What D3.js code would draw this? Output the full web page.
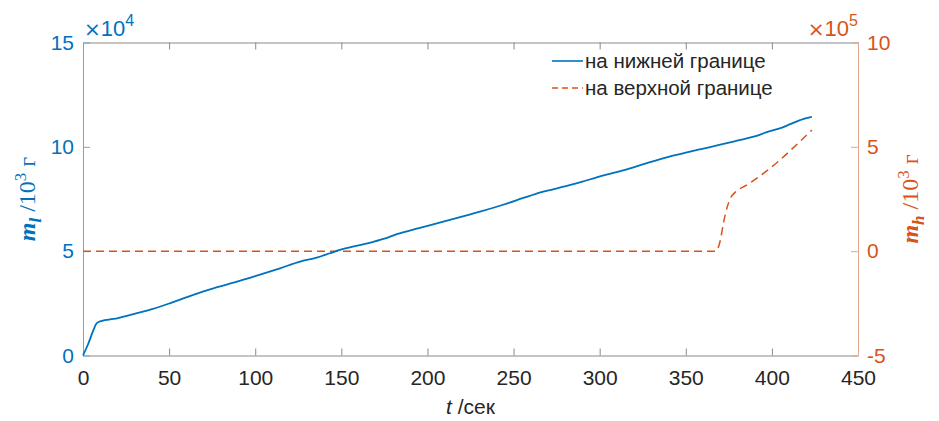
<!DOCTYPE html>
<html>
<head>
<meta charset="utf-8">
<script src="https://cdn.jsdelivr.net/npm/d3@7"></script>
<style>
	body { margin: 0; background: #fff; }
	text { font-family: Arial, "Liberation Sans", Helvetica, sans-serif; }
	.lbl { font-family: "Times New Roman", "Liberation Serif", serif; }
</style>
</head>
<body>
<div id="chart"></div>
<script>
// lower boundary mass, units of 1e4
var lowerTime = [0, 3, 6, 8, 11, 17.6, 27.3, 40, 49.6, 62, 75.7, 88, 100, 114.4, 126, 135.7, 143.4, 149.2, 160, 168.6, 175, 182.2, 195, 209.2, 220, 230.5, 243, 255.7, 263, 271.2, 278.9, 290, 298.3, 308, 317.6, 329.3, 340, 350, 358.3, 370, 381.5, 390, 397, 405, 411, 416.4, 420, 423.2];
var lowerMass = [0, 0.55, 1.2, 1.55, 1.66, 1.75, 1.94, 2.22, 2.48, 2.85, 3.22, 3.5, 3.8, 4.18, 4.5, 4.69, 4.9, 5.06, 5.28, 5.45, 5.6, 5.82, 6.1, 6.41, 6.65, 6.89, 7.2, 7.55, 7.75, 7.93, 8.09, 8.33, 8.54, 8.75, 8.97, 9.27, 9.52, 9.72, 9.88, 10.1, 10.33, 10.5, 10.7, 10.9, 11.1, 11.28, 11.38, 11.44];

// upper boundary mass, units of 1e5
var upperTime = [0, 100, 200, 300, 367.5, 370, 372, 374, 376, 379, 385, 393, 403, 413, 423.2];
var upperMass = [0, 0, 0, 0, 0, 0.5, 1.4, 2.1, 2.55, 2.85, 3.15, 3.6, 4.25, 5.0, 5.8];

var xTicks = [0, 50, 100, 150, 200, 250, 300, 350, 400, 450];
var leftTicks = [0, 5, 10, 15];
var rightTicks = [-5, 0, 5, 10];
var legendNames = ['на нижней границе', 'на верхной границе'];

var W = 939, H = 421;
var M = {left: 83, right: 858, top: 42.5, bottom: 355.5};
var blue = '#0072BD', orange = '#D95319', axisGray = '#8a8a8a', textGray = '#262626';

var svg = d3.select('#chart').append('svg').attr('width', W).attr('height', H);

var x = d3.scaleLinear().domain([0, 450]).range([M.left, M.right]);
var yL = d3.scaleLinear().domain([0, 15]).range([M.bottom, M.top]);
var yR = d3.scaleLinear().domain([-5, 10]).range([M.bottom, M.top]);

var tickLen = 7;

// bottom axis
var gx = svg.append('g').attr('transform', 'translate(0,' + M.bottom + ')')
	.call(d3.axisBottom(x).tickValues(xTicks).tickSizeInner(-tickLen).tickSizeOuter(0).tickPadding(15));
gx.select('.domain').attr('stroke', axisGray);
gx.selectAll('.tick line').attr('stroke', axisGray);
gx.selectAll('.tick text').attr('fill', textGray).style('font-size', '21px');

// top axis (ticks only)
var gt = svg.append('g').attr('transform', 'translate(0,' + M.top + ')')
	.call(d3.axisTop(x).tickValues(xTicks).tickSizeInner(-tickLen).tickSizeOuter(0).tickFormat(''));
gt.select('.domain').attr('stroke', axisGray);
gt.selectAll('.tick line').attr('stroke', axisGray);

// left axis
var gl = svg.append('g').attr('transform', 'translate(' + M.left + ',0)')
	.call(d3.axisLeft(yL).tickValues(leftTicks).tickSizeInner(-tickLen).tickSizeOuter(0).tickPadding(9));
gl.select('.domain').attr('stroke', '#6fa8d6');
gl.selectAll('.tick line').attr('stroke', '#6fa8d6');
gl.selectAll('.tick text').attr('fill', blue).style('font-size', '21px');

// right axis
var gr = svg.append('g').attr('transform', 'translate(' + M.right + ',0)')
	.call(d3.axisRight(yR).tickValues(rightTicks).tickSizeInner(-tickLen).tickSizeOuter(0).tickPadding(9));
gr.select('.domain').attr('stroke', '#e0a98e');
gr.selectAll('.tick line').attr('stroke', '#e0a98e');
gr.selectAll('.tick text').attr('fill', orange).style('font-size', '21px')
	.text(function(d) { return d < 0 ? '-' + Math.abs(d) : d; });

// exponent labels (DejaVu has a wider multiplication sign, closer to the original)
function expLabel(px, anchor, color, pow) {
	var t = svg.append('text').attr('x', px).attr('y', 36).attr('text-anchor', anchor).attr('fill', color);
	t.append('tspan').style('font-family', '"DejaVu Sans"').style('font-size', '20px').text('×');
	t.append('tspan').style('font-size', '22px').text('10');
	t.append('tspan').attr('dy', -10).style('font-size', '16px').text(pow);
}
expLabel(M.left + 1, 'start', blue, '4');
expLabel(M.right, 'end', orange, '5');

// lines
var lowerLine = d3.line().curve(d3.curveMonotoneX)
	.x(function(d, i) { return x(lowerTime[i]); })
	.y(function(d) { return yL(d); });
var upperLine = d3.line().curve(d3.curveMonotoneX)
	.x(function(d, i) { return x(upperTime[i]); })
	.y(function(d) { return yR(d); });

svg.append('path').attr('d', upperLine(upperMass))
	.attr('fill', 'none').attr('stroke', orange).attr('stroke-width', 1.5).attr('stroke-dasharray', '8,5');
svg.append('path').attr('d', lowerLine(lowerMass))
	.attr('fill', 'none').attr('stroke', blue).attr('stroke-width', 1.8);

// legend
var lg = svg.append('g');
legendNames.forEach(function(name, i) {
	var ly = 61 + i * 27;
	lg.append('line').attr('x1', 552).attr('x2', 583).attr('y1', ly).attr('y2', ly)
		.attr('stroke', i === 0 ? blue : orange).attr('stroke-width', 1.6)
		.attr('stroke-dasharray', i === 0 ? null : '6,4');
	lg.append('text').attr('x', 585).attr('y', ly + 7).attr('fill', textGray)
		.style('font-size', '20.5px').text(name);
});

// x label
var xl = svg.append('text').attr('x', (M.left + M.right) / 2).attr('y', 414)
	.attr('text-anchor', 'middle').attr('fill', textGray).style('font-size', '21px');
xl.append('tspan').style('font-style', 'italic').text('t');
xl.append('tspan').text(' /сек');

// y labels
function yLabel(cx, color, sub) {
	var t = svg.append('text').attr('class', 'lbl')
		.attr('transform', 'translate(' + cx + ',' + ((M.top + M.bottom) / 2) + ') rotate(-90)')
		.attr('text-anchor', 'middle').attr('fill', color).style('font-size', '24px');
	t.append('tspan').style('font-weight', 'bold').style('font-style', 'italic').text('m');
	t.append('tspan').attr('dy', 6).style('font-size', '17px').style('font-weight', 'bold').style('font-style', 'italic').text(sub);
	t.append('tspan').attr('dy', -6).text(' /10');
	t.append('tspan').attr('dy', -9).style('font-size', '17px').text('3');
	t.append('tspan').attr('dy', 9).text(' г');
}
yLabel(35, blue, 'l');
yLabel(918, orange, 'h');
</script>
</body>
</html>
